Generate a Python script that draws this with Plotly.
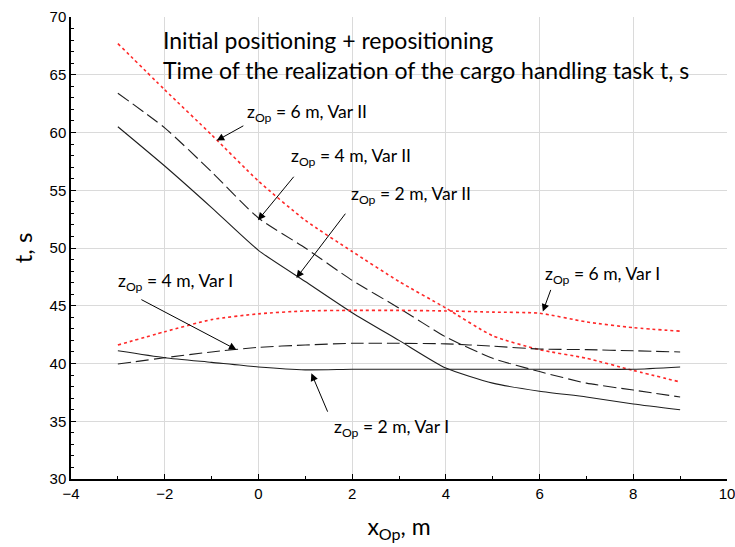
import plotly.graph_objects as go

x_op = [-3, -2, -1, 0, 1, 2, 3, 4, 5, 6, 7, 8, 9]

t_6m_var2 = [67.7, 63.7, 59.8, 55.8, 52.4, 49.7, 47.1, 44.8, 42.4, 41.2, 40.45, 39.4, 38.4]
t_4m_var2 = [63.4, 60.4, 56.6, 52.6, 50.0, 47.2, 44.8, 42.3, 40.45, 39.3, 38.3, 37.7, 37.1]
t_2m_var2 = [60.5, 57.1, 53.5, 49.8, 47.1, 44.4, 42.0, 39.6, 38.3, 37.6, 37.1, 36.5, 36.0]
t_6m_var1 = [41.6, 42.75, 43.8, 44.3, 44.55, 44.6, 44.6, 44.55, 44.45, 44.35, 43.6, 43.1, 42.8]
t_4m_var1 = [39.95, 40.5, 41.0, 41.4, 41.6, 41.75, 41.75, 41.7, 41.5, 41.25, 41.2, 41.1, 41.0]
t_2m_var1 = [41.1, 40.5, 40.1, 39.7, 39.45, 39.5, 39.5, 39.5, 39.5, 39.5, 39.5, 39.5, 39.7]

labels = {
    "6II": "z<sub>Op</sub> = 6 m, Var II",
    "4II": "z<sub>Op</sub> = 4 m, Var II",
    "2II": "z<sub>Op</sub> = 2 m, Var II",
    "6I": "z<sub>Op</sub> = 6 m, Var I",
    "4I": "z<sub>Op</sub> = 4 m, Var I",
    "2I": "z<sub>Op</sub> = 2 m, Var I",
}
title_lines = ["Initial positioning + repositioning",
               "Time of the realization of the cargo handling task t, s"]

RED = "rgb(255,40,40)"
DARK = "rgb(30,30,30)"
fig = go.Figure()

def add(y, color, dash, width, name):
    fig.add_trace(go.Scatter(x=x_op, y=y, mode="lines", name=name,
                             line=dict(color=color, dash=dash, width=width, shape="spline", smoothing=0.6),
                             showlegend=False, hoverinfo="skip"))

add(t_6m_var2, RED, "dot", 1.6, "6II")
add(t_4m_var2, DARK, "13px,5px", 1.1, "4II")
add(t_2m_var2, DARK, "solid", 1.1, "2II")
add(t_6m_var1, RED, "dot", 1.6, "6I")
add(t_4m_var1, DARK, "13px,5px", 1.1, "4I")
add(t_2m_var1, DARK, "solid", 1.1, "2I")

FONT = "Lato"
# (key, tip x, tip y, tail x, tail y, text x, text y)
ann = [
    ("6II", -0.89, 59.3, -0.29, 60.65, 1.03, 61.7),
    ("4II", -0.01, 52.4, 0.78, 56.3, 1.98, 57.9),
    ("2II", 0.81, 47.4, 1.88, 53.1, 3.26, 54.6),
    ("6I", 6.07, 44.5, 6.25, 46.5, 7.34, 47.7),
    ("4I", -0.47, 41.2, -2.53, 45.6, -1.78, 47.1),
    ("2I", 1.13, 39.15, 1.49, 35.7, 2.84, 34.4),
]
for key, tx, ty, ax_, ay_, lx, ly in ann:
    fig.add_annotation(x=tx, y=ty, ax=ax_, ay=ay_, xref="x", yref="y", axref="x", ayref="y",
                       text="", showarrow=True, arrowhead=2, arrowsize=1.5, arrowwidth=1,
                       arrowcolor="black", standoff=0, startstandoff=0)
    fig.add_annotation(x=lx, y=ly, xref="x", yref="y", text=labels[key], showarrow=False,
                       font=dict(family=FONT, size=17.5, color="black"), xanchor="center", yanchor="middle")

fig.add_annotation(x=-2.07, y=68.0, xref="x", yref="y", text=title_lines[0], showarrow=False,
                   xanchor="left", yanchor="middle", font=dict(family=FONT, size=23, color="black"))
fig.add_annotation(x=-2.07, y=65.4, xref="x", yref="y", text=title_lines[1], showarrow=False,
                   xanchor="left", yanchor="middle", font=dict(family=FONT, size=23, color="black"))

tickfont = dict(family="Liberation Sans", size=15, color="black")
common = dict(ticks="inside", ticklen=5, tickcolor="black", tickwidth=1,
              showline=True, linecolor="black", linewidth=1.5, zeroline=False, automargin=False)
minor_common = dict(ticks="inside", ticklen=3, tickcolor="black", showgrid=False)
fig.update_layout(
    width=735, height=547,
    margin=dict(l=71, r=8, t=17, b=68),
    paper_bgcolor="white", plot_bgcolor="white",
    xaxis=dict(range=[-4, 10], dtick=2, tick0=-4, showgrid=True, gridcolor="rgb(218,218,218)",
               gridwidth=1, tickfont=tickfont, minor=dict(dtick=1, tick0=-4, **minor_common),
               ticklabeloverflow="allow",
               title=dict(text="x<sub>Op</sub>, m", font=dict(family=FONT, size=23, color="black"), standoff=18),
               **common),
    yaxis=dict(range=[30, 70], dtick=5, showgrid=True, gridcolor="rgb(218,218,218)",
               gridwidth=1, tickfont=tickfont, minor=dict(dtick=1, **minor_common),
               ticklabeloverflow="allow",
               title=dict(text="t, s", font=dict(family=FONT, size=24, color="black"), standoff=10),
               **common),
    xaxis2=dict(overlaying="x", matches="x", side="top", anchor="y", range=[-4, 10], dtick=2, tick0=-4,
                showticklabels=False, showgrid=False, minor=dict(dtick=1, tick0=-4, **minor_common), **common),
    yaxis2=dict(overlaying="y", matches="y", side="right", anchor="x", range=[30, 70], dtick=5,
                showticklabels=False, showgrid=False, minor=dict(dtick=1, **minor_common), **common),
)

fig.write_html("out.html", config={"displayModeBar": False},
               post_script="document.body.style.margin='0';document.body.style.overflow='hidden';")
